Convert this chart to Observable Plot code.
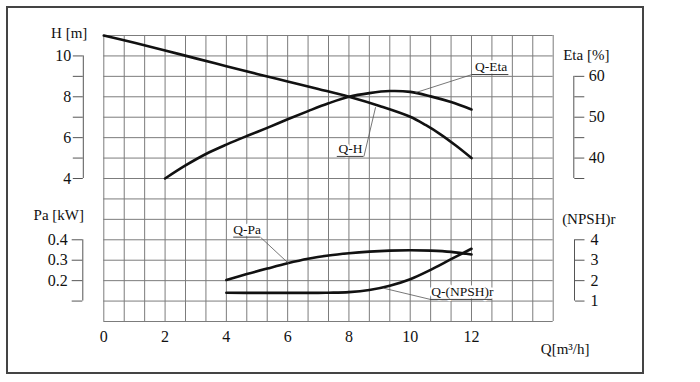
<!DOCTYPE html>
<html><head><meta charset="utf-8">
<script src="https://cdn.jsdelivr.net/npm/d3@7"></script>
<script src="https://cdn.jsdelivr.net/npm/@observablehq/plot@0.6"></script>
<style>
body{margin:0;background:#fff;}
#wrap{position:relative;width:700px;height:382px;overflow:hidden;}
#border{position:absolute;left:6px;top:6px;width:634px;height:364px;border:2px solid #444;pointer-events:none;}
</style></head><body><div id="wrap"><div id="border"></div></div>
<script>
// ---- tick values / labels ----
const qTicks = [0, 2, 4, 6, 8, 10, 12];
const hTicks = [4, 5, 6, 7, 8, 9, 10];
const hLabels = [4, 6, 8, 10];
const etaTicks = [35, 40, 45, 50, 55, 60];
const etaLabels = [40, 50, 60];
const paTicks = [0.1, 0.2, 0.3, 0.4];
const paLabels = [0.2, 0.3, 0.4];
const npshTicks = [1, 2, 3, 4];

// ---- curves ----
const qH = [0, 1, 2, 3, 4, 5, 6, 7, 8, 9, 10, 10.5, 11, 11.5, 12];
const hVals = [11.0, 10.64, 10.27, 9.88, 9.5, 9.12, 8.75, 8.38, 8.0, 7.55, 7.02, 6.62, 6.15, 5.6, 5.0];

const qEta = [2, 2.667, 3.333, 4, 4.667, 5.333, 6, 6.667, 7.333, 8, 8.667, 9.333, 10, 10.667, 11.333, 12];
const etaVals = [35, 38.2, 41, 43.3, 45.4, 47.4, 49.5, 51.5, 53.4, 55, 55.9, 56.4, 56.2, 55.1, 53.7, 51.9];

const qPa = [4, 4.667, 5.333, 6, 6.667, 7.333, 8, 8.667, 9.333, 10, 10.667, 11.333, 12];
const paVals = [0.203, 0.232, 0.259, 0.285, 0.307, 0.323, 0.334, 0.342, 0.347, 0.349, 0.347, 0.341, 0.328];

const qNpsh = [4, 5, 6, 7, 7.333, 8, 8.667, 9.333, 10, 10.667, 11.333, 12];
const npshVals = [1.41, 1.40, 1.40, 1.40, 1.41, 1.44, 1.54, 1.75, 2.07, 2.53, 3.05, 3.56];

// ---- secondary scales expressed on the H scale ----
const etaToH = e => 9 + (e - 60) / 5;
const paToH = p => (p - 0.3) * 10;
const npshToH = n => n - 3;
const hToEta = h => Math.round(60 + (h - 9) * 5);
const hToPa = h => Math.round((h / 10 + 0.3) * 10) / 10;
const hToNpsh = h => Math.round(h + 3);

// ---- annotations ----
const annoLabels = ["Q-Eta", "Q-H", "Q-Pa", "Q-(NPSH)r"];
const annoQ = [10.17, 8.87, 6.04, 9.13];
const annoY = [etaToH(56.0), 7.49, paToH(0.283), npshToH(1.63)];
const annoUx1 = [12.02, 7.62, 4.24, 10.66];
const annoUx2 = [13.22, 8.49, 5.11, 12.68];
const annoLeaderX = [12.02, 8.49, 5.11, 10.66];
const annoUy = [9.09, 5.08, 1.13, -1.92];
const annoTx = [12.64, 8.05, 4.68, 11.7];

const zip = (xs, ys) => xs.map((x, i) => ({x, y: ys[i]}));
const hData = zip(qH, hVals);
const etaData = qEta.map((q, i) => ({x: q, y: etaToH(etaVals[i])}));
const paData = qPa.map((q, i) => ({x: q, y: paToH(paVals[i])}));
const npshData = qNpsh.map((q, i) => ({x: q, y: npshToH(npshVals[i])}));
const annos = annoLabels.map((label, i) => ({label, q: annoQ[i], y: annoY[i], ux1: annoUx1[i], ux2: annoUx2[i],
  lx: annoLeaderX[i], uy: annoUy[i], tx: annoTx[i]}));

const xMax = 22 * 2 / 3;
const gridX = d3.range(0, 23).map(i => i * 2 / 3);
const gridY = d3.range(-3, 12);
const gridColor = "#7c7c7c";
const axisColor = "#555";
const font = "'Liberation Serif', 'Times New Roman', serif";

const curveStyle = {x: "x", y: "y", stroke: "#111", strokeWidth: 2.6, curve: "catmull-rom"};

const chart = Plot.plot({
  width: 700, height: 382,
  marginLeft: 103.3, marginRight: 147.3, marginTop: 35, marginBottom: 61,
  x: {domain: [0, xMax]},
  y: {domain: [-3, 11]},
  style: {fontFamily: font, background: "white", color: "#111"},
  marks: [
    Plot.ruleX(gridX, {stroke: gridColor, strokeWidth: 1}),
    Plot.ruleY(gridY, {stroke: gridColor, strokeWidth: 1}),
    Plot.axisX(qTicks, {tickSize: 0, tickPadding: 9, fontSize: 16, label: null, fill: "#111"}),
    // H axis (left, top)
    Plot.axisY(hTicks, {anchor: "left", tickSize: 10, tickPadding: 2, dx: -20.5, fontSize: 16, label: null,
      stroke: axisColor, fill: "#111", tickFormat: d => hLabels.includes(d) ? String(d) : ""}),
    Plot.ruleX([{x: 0, y1: d3.min(hTicks), y2: d3.max(hTicks)}], {x: "x", y1: "y1", y2: "y2", dx: -20.5, stroke: axisColor}),
    // Pa axis (left, bottom)
    Plot.axisY(paTicks.map(paToH), {anchor: "left", tickSize: 10.6, tickPadding: 4.4, dx: -21, fontSize: 16, label: null,
      stroke: axisColor, fill: "#111", tickFormat: h => paLabels.includes(hToPa(h)) ? hToPa(h).toFixed(1) : ""}),
    Plot.ruleX([{x: 0, y1: paToH(d3.min(paTicks)), y2: paToH(d3.max(paTicks))}], {x: "x", y1: "y1", y2: "y2", dx: -21, stroke: axisColor}),
    // Eta axis (right, top)
    Plot.axisY(etaTicks.map(etaToH), {anchor: "right", tickSize: 10, tickPadding: 5, dx: 20.6, fontSize: 16, label: null,
      stroke: axisColor, fill: "#111", tickFormat: h => etaLabels.includes(hToEta(h)) ? String(hToEta(h)) : ""}),
    Plot.ruleX([{x: xMax, y1: etaToH(d3.min(etaTicks)), y2: etaToH(d3.max(etaTicks))}], {x: "x", y1: "y1", y2: "y2", dx: 20.6, stroke: axisColor}),
    // NPSH axis (right, bottom)
    Plot.axisY(npshTicks.map(npshToH), {anchor: "right", tickSize: 9.5, tickPadding: 6.5, dx: 21.3, fontSize: 16, label: null,
      stroke: axisColor, fill: "#111", tickFormat: h => String(hToNpsh(h))}),
    Plot.ruleX([{x: xMax, y1: npshToH(d3.min(npshTicks)), y2: npshToH(d3.max(npshTicks))}], {x: "x", y1: "y1", y2: "y2", dx: 21.3, stroke: axisColor}),
    // axis titles
    Plot.text(["H [m]"], {frameAnchor: "top-left", dx: -34.6, dy: -2.3, lineAnchor: "middle", textAnchor: "middle", fontSize: 15}),
    Plot.text(["Eta [%]"], {frameAnchor: "top-right", dx: 33.1, dy: 20, lineAnchor: "middle", textAnchor: "middle", fontSize: 15}),
    Plot.text(["Pa [kW]"], {frameAnchor: "top-left", dx: -45, dy: 180, lineAnchor: "middle", textAnchor: "middle", fontSize: 15}),
    Plot.text(["(NPSH)r"], {frameAnchor: "top-right", dx: 35.6, dy: 183.3, lineAnchor: "middle", textAnchor: "middle", fontSize: 15}),
    Plot.text(["Q[m³/h]"], {frameAnchor: "bottom-right", dx: 12, dy: 28, lineAnchor: "middle", textAnchor: "middle", fontSize: 15}),
    // curves
    Plot.line(hData, curveStyle),
    Plot.line(etaData, curveStyle),
    Plot.line(paData, curveStyle),
    Plot.line(npshData, {...curveStyle, curve: "monotone-x"}),
    // annotations
    Plot.text(annos, {x: "tx", y: "uy", text: "label", lineAnchor: "bottom", dy: -3.5, fontSize: 13.5,
      fill: "#111", stroke: "white", strokeWidth: 5, paintOrder: "stroke"}),
    Plot.ruleY(annos, {y: "uy", x1: "ux1", x2: "ux2", stroke: "#444", strokeWidth: 1}),
    Plot.link(annos, {x1: "lx", y1: "uy", x2: "q", y2: "y", stroke: "#555", strokeWidth: 0.8})
  ]
});
document.getElementById("wrap").prepend(chart);
</script>
</body></html>
